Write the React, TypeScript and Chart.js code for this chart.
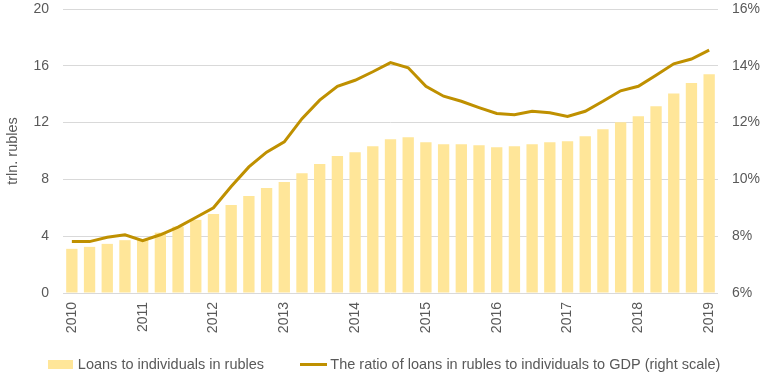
import React, { useEffect, useRef } from "react";
import { Chart, registerables } from "chart.js";

Chart.register(...registerables);

const quarters = [
  "2010 Q1", "2010 Q2", "2010 Q3", "2010 Q4",
  "2011 Q1", "2011 Q2", "2011 Q3", "2011 Q4",
  "2012 Q1", "2012 Q2", "2012 Q3", "2012 Q4",
  "2013 Q1", "2013 Q2", "2013 Q3", "2013 Q4",
  "2014 Q1", "2014 Q2", "2014 Q3", "2014 Q4",
  "2015 Q1", "2015 Q2", "2015 Q3", "2015 Q4",
  "2016 Q1", "2016 Q2", "2016 Q3", "2016 Q4",
  "2017 Q1", "2017 Q2", "2017 Q3", "2017 Q4",
  "2018 Q1", "2018 Q2", "2018 Q3", "2018 Q4",
  "2019 Q1",
];

const yearTickLabels = ["2010", "2011", "2012", "2013", "2014", "2015", "2016", "2017", "2018", "2019"];

// trillion rubles
const loans = [
  3.11, 3.25, 3.46, 3.72,
  3.75, 4.25, 4.68, 5.15,
  5.57, 6.2, 6.83, 7.39,
  7.81, 8.44, 9.08, 9.64,
  9.92, 10.34, 10.82, 10.96,
  10.61, 10.47, 10.47, 10.4,
  10.26, 10.33, 10.47, 10.61,
  10.68, 11.04, 11.53, 12.02,
  12.45, 13.15, 14.05, 14.78,
  15.41,
];

// percent of GDP (right scale)
const ratioToGdp = [
  7.81, 7.81, 7.96, 8.05,
  7.84, 8.05, 8.32, 8.66,
  9.0, 9.75, 10.44, 10.96,
  11.32, 12.14, 12.79, 13.28,
  13.49, 13.79, 14.11, 13.93,
  13.28, 12.93, 12.75, 12.53,
  12.32, 12.28, 12.4, 12.35,
  12.22, 12.4, 12.75, 13.12,
  13.28, 13.67, 14.07, 14.24,
  14.55,
];

const seriesNames = [
  "Loans to individuals in rubles",
  "The ratio of loans in rubles to individuals to GDP (right scale)",
];

const BAR_COLOR = "#FFE699";
const LINE_COLOR = "#BF9000";
const TEXT_COLOR = "#595959";
const GRID_COLOR = "#D9D9D9";
const FONT_FAMILY = "'Liberation Sans', Arial, sans-serif";

function makeSwatch(w: number, h: number, color: string): HTMLCanvasElement {
  const c = document.createElement("canvas");
  c.width = w;
  c.height = h;
  const g = c.getContext("2d");
  if (g) {
    g.fillStyle = color;
    g.fillRect(0, 0, w, h);
  }
  return c;
}

// let the rotated year labels run below the (short) x-axis box
const xLabelRoom = {
  id: "xLabelRoom",
  afterLayout(chart: any) {
    const x = chart.scales.x;
    if (x) x.bottom = chart.height;
  },
};

export default function App() {
  const canvasRef = useRef<HTMLCanvasElement | null>(null);

  useEffect(() => {
    const canvas = canvasRef.current;
    if (!canvas) return;
    const barSwatch = makeSwatch(25, 9, BAR_COLOR);
    const lineSwatch = makeSwatch(27, 3, LINE_COLOR);

    const chart = new Chart(canvas, {
      type: "bar",
      data: {
        labels: quarters,
        datasets: [
          {
            type: "bar",
            label: seriesNames[0],
            data: loans,
            backgroundColor: BAR_COLOR,
            borderWidth: 0,
            yAxisID: "y",
            barPercentage: 0.64,
            categoryPercentage: 1,
            order: 2,
          },
          {
            type: "line",
            label: seriesNames[1],
            data: ratioToGdp,
            borderColor: LINE_COLOR,
            backgroundColor: LINE_COLOR,
            borderWidth: 3,
            pointRadius: 0,
            tension: 0,
            yAxisID: "y1",
            order: 1,
          } as any,
        ],
      },
      plugins: [xLabelRoom],
      options: {
        responsive: false,
        animation: false,
        layout: { padding: { top: 0, left: 10, right: 0, bottom: 2.25 } },
        plugins: {
          tooltip: { enabled: false },
          legend: {
            display: true,
            position: "bottom",
            labels: {
              usePointStyle: true,
              pointStyleWidth: 20,
              padding: 39,
              color: TEXT_COLOR,
              font: { family: FONT_FAMILY, size: 14.5 },
              sort: (a: any, b: any) => a.datasetIndex - b.datasetIndex,
              generateLabels: (ch: any) => {
                const items = Chart.defaults.plugins.legend.labels.generateLabels(ch);
                return items.map((it: any) => ({
                  ...it,
                  pointStyle: it.datasetIndex === 0 ? barSwatch : lineSwatch,
                  lineWidth: 0,
                }));
              },
            },
          },
        },
        scales: {
          x: {
            grid: { display: false, drawTicks: false },
            border: { display: false },
            afterFit: (s: any) => {
              s.height = 25.25;
              s.paddingLeft = 0;
              s.paddingRight = 0;
            },
            ticks: {
              autoSkip: false,
              maxRotation: 90,
              minRotation: 90,
              padding: 9,
              color: TEXT_COLOR,
              font: { family: FONT_FAMILY, size: 14 },
              callback: (_v: any, i: number) => (i % 4 === 0 ? yearTickLabels[i / 4] : ""),
            },
          },
          y: {
            position: "left",
            min: 0,
            max: 20,
            grid: { color: GRID_COLOR, drawTicks: false, lineWidth: 1 },
            border: { display: false },
            afterFit: (s: any) => {
              s.width = 53;
              s.paddingTop = 9;
              s.paddingBottom = 0;
            },
            ticks: {
              stepSize: 4,
              padding: 14,
              color: TEXT_COLOR,
              font: { family: FONT_FAMILY, size: 14 },
            },
            title: {
              display: true,
              text: "trln. rubles",
              color: TEXT_COLOR,
              font: { family: FONT_FAMILY, size: 14.5 },
              padding: { top: -6, bottom: 0 },
            },
          },
          y1: {
            position: "right",
            min: 6,
            max: 16,
            grid: { display: false, drawTicks: false },
            border: { display: false },
            afterFit: (s: any) => {
              s.width = 43;
              s.paddingTop = 9;
              s.paddingBottom = 0;
            },
            ticks: {
              stepSize: 2,
              padding: 14,
              color: TEXT_COLOR,
              font: { family: FONT_FAMILY, size: 14 },
              callback: (v: any) => `${v}%`,
            },
          },
        },
      },
    });

    return () => {
      chart.destroy();
    };
  }, []);

  return (
    <div style={{ position: "fixed", left: 0, top: 0, width: 761, height: 384, background: "#ffffff" }}>
      <canvas ref={canvasRef} width={761} height={384} style={{ display: "block" }} />
    </div>
  );
}
